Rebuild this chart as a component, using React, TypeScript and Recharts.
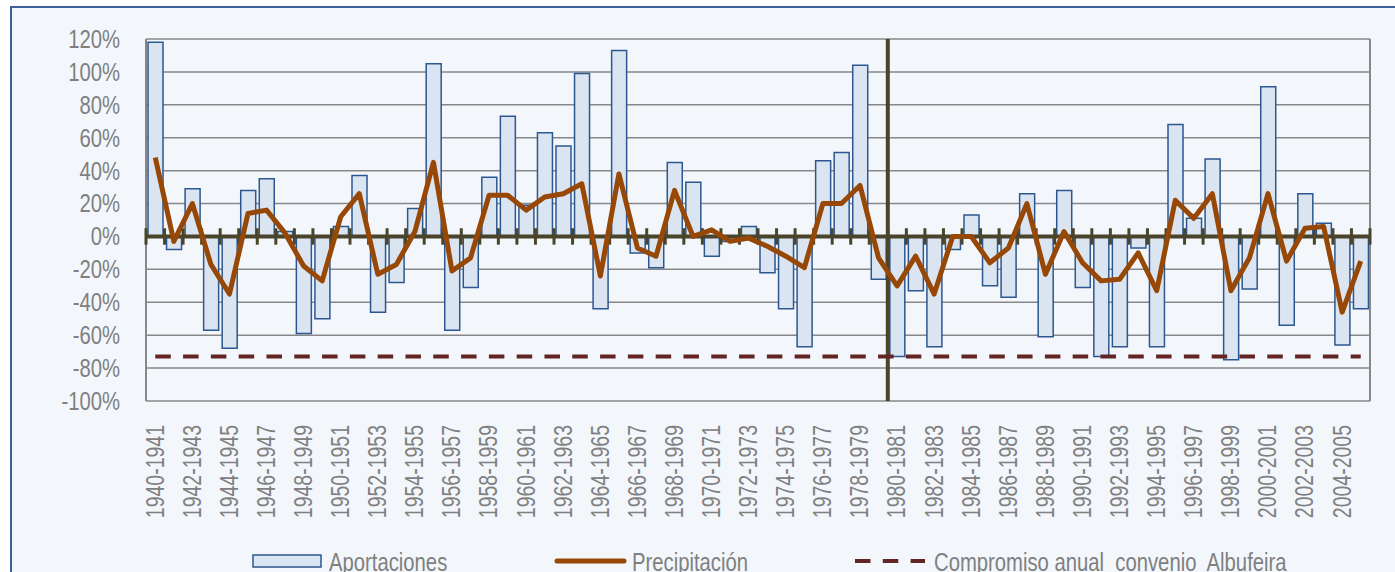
import * as React from 'react';
import {
    ComposedChart,
    Bar,
    Line,
    XAxis,
    YAxis,
    CartesianGrid,
    ReferenceLine
} from 'recharts';

// hydrological years (categories)
const years = [
    '1940-1941', '1941-1942', '1942-1943', '1943-1944', '1944-1945', '1945-1946', '1946-1947', '1947-1948', '1948-1949', '1949-1950',
    '1950-1951', '1951-1952', '1952-1953', '1953-1954', '1954-1955', '1955-1956', '1956-1957', '1957-1958', '1958-1959', '1959-1960',
    '1960-1961', '1961-1962', '1962-1963', '1963-1964', '1964-1965', '1965-1966', '1966-1967', '1967-1968', '1968-1969', '1969-1970',
    '1970-1971', '1971-1972', '1972-1973', '1973-1974', '1974-1975', '1975-1976', '1976-1977', '1977-1978', '1978-1979', '1979-1980',
    '1980-1981', '1981-1982', '1982-1983', '1983-1984', '1984-1985', '1985-1986', '1986-1987', '1987-1988', '1988-1989', '1989-1990',
    '1990-1991', '1991-1992', '1992-1993', '1993-1994', '1994-1995', '1995-1996', '1996-1997', '1997-1998', '1998-1999', '1999-2000',
    '2000-2001', '2001-2002', '2002-2003', '2003-2004', '2004-2005', '2005-2006'
];

// desviación respecto a la media (%)
const aportaciones = [
    118, -8, 29, -57, -68, 28, 35, 3, -59, -50,
    6, 37, -46, -28, 17, 105, -57, -31, 36, 73,
    19, 63, 55, 99, -44, 113, -10, -19, 45, 33,
    -12, -3, 6, -22, -44, -67, 46, 51, 104, -26,
    -73, -33, -67, -8, 13, -30, -37, 26, -61, 28,
    -31, -73, -67, -7, -67, 68, 11, 47, -75, -32,
    91, -54, 26, 8, -66, -44
];

const precipitacion = [
    48, -3, 20, -17, -35, 14, 16, 2, -18, -27,
    12, 26, -23, -17, 3, 45, -21, -13, 25, 25,
    16, 24, 26, 32, -24, 38, -7, -12, 28, 0,
    4, -3, -1, -6, -12, -19, 20, 20, 31, -13,
    -30, -12, -35, 0, 0, -16, -7, 20, -23, 3,
    -16, -27, -26, -10, -33, 22, 11, 26, -33, -13,
    26, -15, 5, 6, -46, -15
];

const compromisoAlbufeira = -73;
const yTicks = [-100, -80, -60, -40, -20, 0, 20, 40, 60, 80, 100, 120];
const splitYear = '1980-1981';

const colors = {
    barFill: '#dbe5f1',
    barStroke: '#2c5790',
    precip: '#974706',
    compromiso: '#632523',
    axis: '#4a452a',
    grid: '#878787',
    text: '#808080',
    border: '#3b6196',
    bg: '#f3f7fc'
};

// Arial-metric font squeezed to look like Arial Narrow
const font = "'Liberation Sans', Arial, sans-serif";
const narrow = 'scale(0.78,1)';

const data = years.map((y, i) => ({
    name: y,
    Aportaciones: aportaciones[i],
    Precipitacion: precipitacion[i],
    Compromiso: compromisoAlbufeira
}));

const lastYear = years[years.length - 1];

const XTick = (props: any) => {
    const { x, y, payload } = props;
    return (
        <g transform={`translate(${x},${y})`}>
            <text transform={`rotate(-90) ${narrow}`} textAnchor='end' dominantBaseline='central' fill={colors.text} fontSize={25} fontFamily={font}>
                {payload.value}
            </text>
        </g>
    );
};

const YTick = (props: any) => {
    const { x, y, payload } = props;
    return (
        <g transform={`translate(${x},${y})`}>
            <text transform={narrow} textAnchor='end' dominantBaseline='central' fill={colors.text} fontSize={26} fontFamily={font}>
                {`${payload.value}%`}
            </text>
        </g>
    );
};

const LegendText = ({ x, children }: { x: number; children: string }) => (
    <text transform={`translate(${x},571) ${narrow}`} fill={colors.text} fontSize={26} fontFamily={font} style={{ whiteSpace: 'pre' }}>{children}</text>
);

const LegendBox = () => (
    <svg width={1395} height={572} style={{ position: 'absolute', left: 0, top: 0, pointerEvents: 'none' }}>
        <rect x={253} y={555} width={68} height={12} fill={colors.barFill} stroke={colors.barStroke} strokeWidth={1.5} />
        <LegendText x={329}>Aportaciones</LegendText>
        <line x1={557} y1={561} x2={624} y2={561} stroke={colors.precip} strokeWidth={5} strokeLinecap='round' />
        <LegendText x={632}>Precipitación</LegendText>
        <line x1={855} y1={561} x2={925} y2={561} stroke={colors.compromiso} strokeWidth={4} strokeDasharray='15.5 12.3' />
        <LegendText x={934}>{'Compromiso anual  convenio  Albufeira'}</LegendText>
    </svg>
);

export default function App() {
    return (
        <div style={{ position: 'fixed', left: 0, top: 0, width: 1395, height: 572, overflow: 'hidden', background: '#fff' }}>
            <div style={{ position: 'absolute', left: 10, top: 6, width: 1420, height: 620, border: `2px solid ${colors.border}`, background: colors.bg }} />
            <div style={{ position: 'absolute', left: 0, top: 0 }}>
                <ComposedChart
                    width={1395}
                    height={572}
                    data={data}
                    margin={{ top: 39, right: 25, bottom: 51, left: 86 }}
                    barSize={15}
                >
                    <CartesianGrid horizontal={true} vertical={false} stroke={colors.grid} strokeWidth={1.5} />
                    <XAxis
                        dataKey='name'
                        interval={1}
                        height={120}
                        axisLine={false}
                        tickLine={false}
                        tickSize={0}
                        tickMargin={24}
                        tick={<XTick />}
                    />
                    <YAxis
                        domain={[-100, 120]}
                        ticks={yTicks}
                        width={60}
                        axisLine={false}
                        tickLine={false}
                        tickSize={0}
                        tickMargin={26}
                        tick={<YTick />}
                        interval={0}
                    />
                    <ReferenceLine x={years[0]} position='start' stroke={colors.grid} strokeWidth={2} />
                    <ReferenceLine x={lastYear} position='end' stroke={colors.grid} strokeWidth={2} />
                    <Bar
                        dataKey='Aportaciones'
                        fill={colors.barFill}
                        stroke={colors.barStroke}
                        strokeWidth={1.5}
                        isAnimationActive={false}
                    />
                    <ReferenceLine y={0} stroke={colors.axis} strokeWidth={4} />
                    {years.map((yr) => (
                        <ReferenceLine
                            key={'t' + yr}
                            position='start'
                            segment={[{ x: yr, y: -5 }, { x: yr, y: 5 }]}
                            stroke={colors.axis}
                            strokeWidth={3}
                        />
                    ))}
                    <ReferenceLine
                        position='end'
                        segment={[{ x: lastYear, y: -5 }, { x: lastYear, y: 5 }]}
                        stroke={colors.axis}
                        strokeWidth={3}
                    />
                    <ReferenceLine x={splitYear} position='start' stroke={colors.axis} strokeWidth={4} />
                    <Line
                        dataKey='Precipitacion'
                        stroke={colors.precip}
                        strokeWidth={5}
                        strokeLinejoin='round'
                        dot={false}
                        isAnimationActive={false}
                    />
                    <Line
                        dataKey='Compromiso'
                        stroke={colors.compromiso}
                        strokeWidth={4}
                        strokeDasharray='15.5 12.3'
                        dot={false}
                        isAnimationActive={false}
                    />
                </ComposedChart>
            </div>
            <LegendBox />
        </div>
    );
}
